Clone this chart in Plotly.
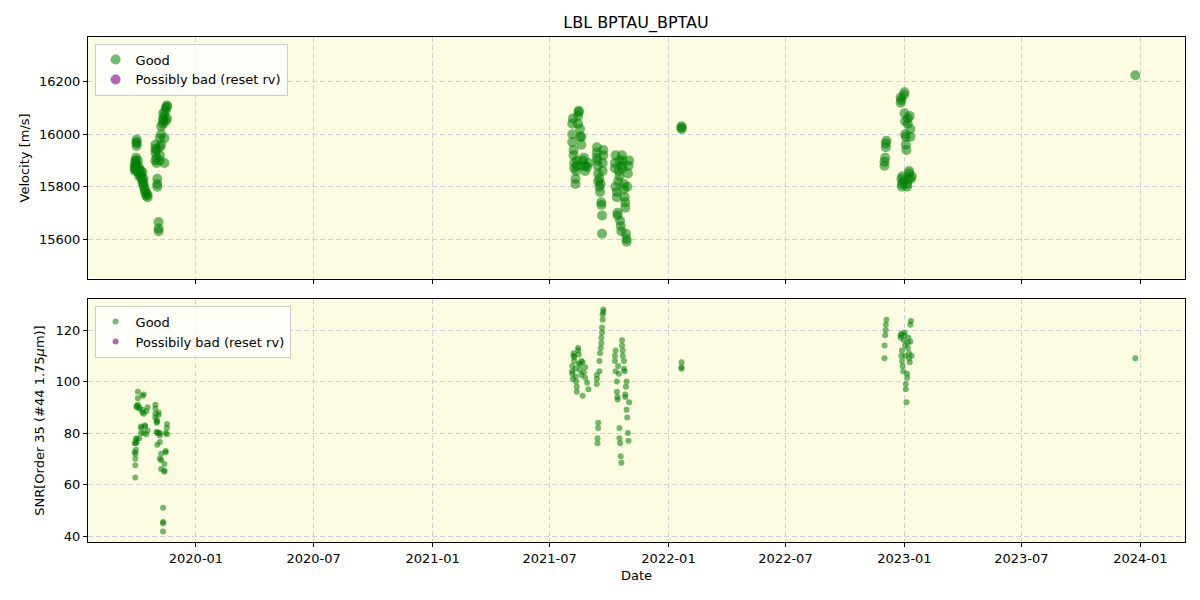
import plotly.graph_objects as go
from plotly.subplots import make_subplots

# ---- Season 2019 ----
dates_2019 = [
    "2019-09-28 03:00", "2019-09-28 05:00",
    "2019-09-29 03:00", "2019-09-29 04:00", "2019-09-29 05:00", "2019-09-29 06:00",
    "2019-09-30 03:00", "2019-09-30 04:00", "2019-09-30 05:00",
    "2019-10-01 03:00", "2019-10-01 04:00", "2019-10-01 05:00", "2019-10-01 06:00",
    "2019-10-03 03:00", "2019-10-03 04:00", "2019-10-03 05:00",
    "2019-10-05 03:00", "2019-10-05 04:00", "2019-10-05 05:00",
    "2019-10-08 03:00", "2019-10-08 04:00", "2019-10-08 05:00",
    "2019-10-10 03:00", "2019-10-10 04:00", "2019-10-10 05:00",
    "2019-10-12 03:00", "2019-10-12 04:00", "2019-10-12 05:00",
    "2019-10-14 03:00", "2019-10-14 04:00",
    "2019-10-16 03:00", "2019-10-16 04:00",
    "2019-10-18 03:00", "2019-10-18 04:00",
    "2019-10-30 03:00", "2019-10-30 04:00", "2019-10-30 05:00", "2019-10-30 06:00",
    "2019-11-01 03:00", "2019-11-01 04:00", "2019-11-01 05:00",
    "2019-11-02 03:00", "2019-11-02 04:00", "2019-11-02 05:00",
    "2019-11-04 03:00", "2019-11-04 04:00", "2019-11-04 05:00",
    "2019-11-06 03:00", "2019-11-06 04:00", "2019-11-06 05:00", "2019-11-06 06:00",
    "2019-11-08 03:00", "2019-11-08 04:00", "2019-11-08 05:00",
    "2019-11-11 03:00", "2019-11-11 04:00", "2019-11-11 05:00", "2019-11-11 06:00",
    "2019-11-13 03:00", "2019-11-13 04:00", "2019-11-13 05:00",
    "2019-11-15 03:00", "2019-11-15 04:00", "2019-11-15 05:00",
    "2019-11-17 03:00", "2019-11-17 04:00", "2019-11-17 05:00",
]
vel_2019 = [
    15880, 15865,
    15870, 15860, 15885, 15900,
    15875, 15895, 15910,
    15955, 15970, 15980, 15965,
    15900, 15880, 15865,
    15850, 15870, 15840,
    15860, 15835, 15845,
    15855, 15825, 15815,
    15830, 15800, 15810,
    15790, 15780,
    15775, 15765,
    15760, 15770,
    15900, 15930, 15960, 15945,
    15890, 15910, 15940,
    15810, 15830, 15800,
    15640, 15665, 15630,
    15900, 15950, 15985, 15920,
    15960, 16000, 16030,
    16040, 16060, 16050, 16080,
    15890, 15985, 16070,
    16090, 16100, 16050,
    16110, 16105, 16060,
]
snr_2019 = [
    76.0, 72.5,
    62.7, 67.5, 70.0, 72.0,
    73.5, 76.0, 77.5,
    76.5, 78.0, 90.0, 90.5,
    91.0, 93.5, 96.0,
    89.5, 90.0, 78.0,
    80.0, 82.0, 82.5,
    88.0, 89.0, 94.5,
    95.0, 87.5, 80.0,
    82.5, 83.0,
    79.5, 88.5,
    90.0, 81.0,
    86.0, 87.5, 89.5, 91.0,
    84.0, 85.0, 80.5,
    75.5, 80.0, 84.5,
    87.0, 88.0, 80.0,
    76.5, 79.0, 80.0, 70.0,
    72.0, 66.0, 69.5,
    41.8, 45.0, 45.5, 51.0,
    65.0, 65.5, 68.0,
    72.5, 73.0, 80.0,
    82.0, 83.5, 79.5,
]

# ---- Season 2021 ----
dates_2021 = [
    "2021-08-05 03:00", "2021-08-05 04:00", "2021-08-05 05:00", "2021-08-06 03:00",
    "2021-08-07 03:00", "2021-08-07 04:00", "2021-08-08 03:00", "2021-08-08 04:00",
    "2021-08-10 03:00", "2021-08-10 04:00", "2021-08-11 03:00", "2021-08-12 03:00",
    "2021-08-12 04:00", "2021-08-14 03:00", "2021-08-14 04:00", "2021-08-15 03:00",
    "2021-08-15 04:00", "2021-08-17 03:00", "2021-08-17 04:00", "2021-08-19 03:00",
    "2021-08-19 04:00", "2021-08-21 03:00", "2021-08-21 04:00", "2021-08-23 03:00",
    "2021-08-25 03:00", "2021-08-25 04:00", "2021-08-28 03:00", "2021-08-30 03:00",
    "2021-09-12 03:00", "2021-09-12 04:00", "2021-09-12 05:00", "2021-09-13 03:00",
    "2021-09-13 04:00", "2021-09-14 03:00", "2021-09-14 04:00", "2021-09-16 03:00",
    "2021-09-16 04:00", "2021-09-17 03:00", "2021-09-18 03:00", "2021-09-19 03:00",
    "2021-09-19 04:00", "2021-09-20 03:00", "2021-09-20 04:00", "2021-09-21 03:00",
    "2021-09-21 04:00", "2021-09-22 03:00", "2021-09-22 04:00",
    "2021-10-10 03:00", "2021-10-10 04:00", "2021-10-11 03:00", "2021-10-11 04:00",
    "2021-10-13 03:00", "2021-10-13 04:00", "2021-10-14 03:00", "2021-10-14 04:00",
    "2021-10-15 03:00", "2021-10-16 03:00", "2021-10-17 03:00", "2021-10-17 04:00",
    "2021-10-18 03:00", "2021-10-19 03:00", "2021-10-20 03:00", "2021-10-21 03:00",
    "2021-10-21 04:00", "2021-10-22 03:00", "2021-10-22 04:00", "2021-10-24 03:00",
    "2021-10-24 04:00", "2021-10-25 03:00", "2021-10-26 03:00", "2021-10-26 04:00",
    "2021-10-27 03:00", "2021-10-28 03:00", "2021-10-28 04:00", "2021-10-29 03:00",
    "2021-10-30 03:00", "2021-10-31 03:00", "2021-11-01 03:00",
]
vel_2021 = [
    15970, 16000, 16040, 16060,
    15940, 15920, 15890, 15870,
    15830, 15810, 15860, 15900,
    15880, 16040, 16070, 16090,
    16085, 16020, 15990, 15990,
    15960, 15900, 15880, 15910,
    15880, 15860, 15875, 15890,
    15910, 15930, 15950, 15900,
    15880, 15850, 15820, 15830,
    15800, 15780, 15810, 15740,
    15730, 15690, 15620, 15860,
    15890, 15920, 15940,
    15870, 15890, 15920, 15800,
    15780, 15760, 15700, 15690,
    15820, 15860, 15900, 15840,
    15670, 15650, 15630, 15880,
    15920, 15900, 15870, 15790,
    15810, 15760, 15740, 15720,
    15620, 15600, 15590, 15800,
    15850, 15880, 15900,
]
snr_2021 = [
    104, 106, 103, 101,
    110, 111, 108, 109.5,
    105, 102, 100, 98,
    96, 112, 113, 110.5,
    107, 106.5, 104.5, 102.5,
    108, 107.5, 94.5, 103.5,
    101.5, 105.5, 99.5, 97,
    99, 101, 102.5, 76,
    78, 82, 84, 104,
    108, 111, 113, 115,
    117, 119, 121, 124,
    126, 127, 128,
    108, 110, 112, 104,
    100, 96, 94, 93,
    106, 103, 82, 78,
    76, 71, 68.5, 116,
    114, 112, 110, 108,
    105, 104, 95, 94,
    98, 100, 89, 86,
    80, 77, 92,
]

# ---- Season 2022 / 2023 ----
dates_2022 = [
    "2022-01-21 03:00", "2022-01-21 04:00", "2022-01-21 05:00",
    "2022-12-01 03:00", "2022-12-01 04:00", "2022-12-02 03:00", "2022-12-03 03:00",
    "2022-12-03 04:00", "2022-12-04 03:00",
    "2022-12-26 03:00", "2022-12-26 04:00", "2022-12-27 03:00", "2022-12-27 04:00",
    "2022-12-28 03:00", "2022-12-28 04:00", "2022-12-29 03:00", "2022-12-30 03:00",
    "2022-12-31 03:00", "2023-01-01 03:00", "2023-01-01 04:00", "2023-01-02 03:00",
    "2023-01-02 04:00", "2023-01-03 03:00", "2023-01-03 04:00", "2023-01-04 03:00",
    "2023-01-05 03:00", "2023-01-05 04:00", "2023-01-06 03:00", "2023-01-06 04:00",
    "2023-01-07 03:00", "2023-01-08 03:00", "2023-01-08 04:00", "2023-01-09 03:00",
    "2023-01-10 03:00", "2023-01-10 04:00", "2023-01-11 03:00", "2023-01-12 03:00",
    "2023-12-24 03:00",
]
vel_2022 = [
    16020, 16030, 16025,
    15880, 15895, 15910, 15950,
    15965, 15975,
    16120, 16140, 16130, 15830,
    15810, 15800, 15840, 15820,
    16150, 16160, 16080, 16050,
    16000, 15990, 15960, 15940,
    15810, 15800, 16060, 16040,
    15830, 15850, 15860, 16070,
    16020, 15990, 15830, 15840,
    16225,
]
snr_2022 = [
    105, 105.5, 107.5,
    109, 114, 118, 120,
    122, 124,
    118, 117, 118.5, 110,
    112, 108, 106, 104,
    116, 119, 118, 114,
    110, 99, 97, 92,
    101.5, 103, 113, 115,
    117, 111, 109, 107.5,
    115.5, 122, 123.5, 110,
    109,
]

dates = dates_2019 + dates_2021 + dates_2022
velocity = vel_2019 + vel_2021 + vel_2022
snr = snr_2019 + snr_2021 + snr_2022

GREEN = "rgba(0,128,0,0.55)"
PURPLE = "rgba(128,0,128,0.6)"
BG = "#fcfce3"
GRID = "#d2d2de"
FONT = "DejaVu Sans"

fig = make_subplots(rows=2, cols=1, shared_xaxes=True, vertical_spacing=0.04)

fig.add_trace(go.Scatter(
    x=dates, y=velocity, mode="markers", name="Good",
    marker=dict(color=GREEN, size=10, line=dict(width=0)),
    legend="legend"), row=1, col=1)
fig.add_trace(go.Scatter(
    x=[None], y=[None], mode="markers", name="Possibly bad (reset rv)",
    marker=dict(color=PURPLE, size=10, line=dict(width=0)),
    legend="legend"), row=1, col=1)
fig.add_trace(go.Scatter(
    x=dates, y=snr, mode="markers", name="Good",
    marker=dict(color=GREEN, size=6, line=dict(width=0)),
    legend="legend2"), row=2, col=1)
fig.add_trace(go.Scatter(
    x=[None], y=[None], mode="markers", name="Possibily bad (reset rv)",
    marker=dict(color=PURPLE, size=6, line=dict(width=0)),
    legend="legend2"), row=2, col=1)

axis_common = dict(
    showline=True, linecolor="black", linewidth=1, mirror=True,
    ticks="outside", ticklen=4, tickcolor="black",
    showgrid=True, gridcolor=GRID, griddash="5px,3px", gridwidth=1,
    zeroline=False, tickfont=dict(size=13, color="black", family=FONT),
)

fig.update_xaxes(**axis_common)
fig.update_yaxes(**axis_common)

fig.update_xaxes(range=["2019-07-18", "2024-03-10"], tick0="2020-01-01", dtick="M6",
                 tickformat="%Y-%m", type="date")
fig.update_xaxes(showticklabels=False, row=1, col=1)
fig.update_xaxes(title=dict(text="Date", font=dict(size=13, family=FONT, color="black"),
                            standoff=6), row=2, col=1)

fig.update_yaxes(range=[15448, 16371], tick0=15600, dtick=200, tickformat="d",
                 title=dict(text="Velocity [m/s]", font=dict(size=13, family=FONT, color="black"),
                            standoff=6), row=1, col=1)
fig.update_yaxes(range=[37.7, 132], tick0=40, dtick=20, tickformat="d",
                 title=dict(text="SNR[Order 35 (#44 1.75<i>μ</i>m)]",
                            font=dict(size=13, family=FONT, color="black"), standoff=8),
                 row=2, col=1)

legend_style = dict(xanchor="left", yanchor="top",
                    bgcolor="rgba(255,255,255,0.8)", bordercolor="#cccccc", borderwidth=1,
                    font=dict(size=13, family=FONT, color="black"), tracegroupgap=2,
                    itemwidth=30)

fig.update_layout(
    width=1200, height=600,
    margin=dict(l=88, r=15, t=37, b=58),
    paper_bgcolor="white", plot_bgcolor=BG,
    font=dict(family=FONT, size=13, color="black"),
    title=dict(text="LBL BPTAU_BPTAU", x=0.53, xanchor="center", y=0.963, yanchor="middle",
               font=dict(size=16, family=FONT, color="black")),
    legend=dict(x=0.006, y=0.987, **legend_style),
    legend2=dict(x=0.006, y=0.468, **legend_style),
    showlegend=True,
)

fig.update_layout(yaxis=dict(domain=[0.521, 1.0]), yaxis2=dict(domain=[0.0, 0.481]))

fig.write_html("out.html")
